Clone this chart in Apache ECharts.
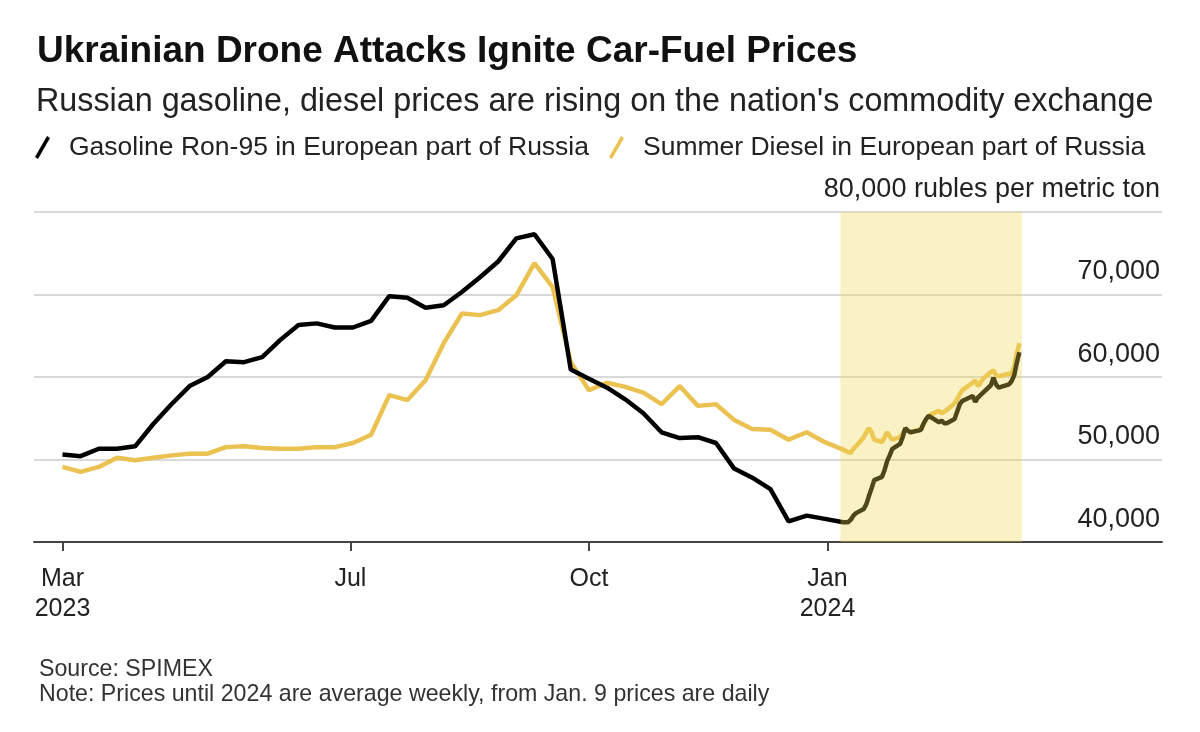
<!DOCTYPE html>
<html>
<head>
<meta charset="utf-8">
<script src="https://cdn.jsdelivr.net/npm/echarts@6/dist/echarts.min.js"></script>
<style>
html,body{margin:0;padding:0;background:#fff;}
#chart{width:1200px;height:732px;}
</style>
</head>
<body>
<div id="chart"></div>
<script>
// Weekly averages (until early Jan 2024)
const weeklyDates = [
  '2023-03-12','2023-03-19','2023-03-26','2023-04-02','2023-04-09','2023-04-16','2023-04-23','2023-04-30',
  '2023-05-07','2023-05-14','2023-05-21','2023-05-28','2023-06-04','2023-06-11','2023-06-18','2023-06-25',
  '2023-07-02','2023-07-09','2023-07-16','2023-07-23','2023-07-30','2023-08-06','2023-08-13','2023-08-20',
  '2023-08-27','2023-09-03','2023-09-10','2023-09-17','2023-09-24','2023-10-01','2023-10-08','2023-10-15',
  '2023-10-22','2023-10-29','2023-11-05','2023-11-12','2023-11-19','2023-11-26','2023-12-03','2023-12-10',
  '2023-12-17','2023-12-24','2023-12-31','2024-01-07'
];
const gasolineWeekly = [
  50600,50400,51300,51300,51600,54300,56700,58900,
  60000,61900,61800,62400,64500,66300,66500,66000,
  66000,66800,69800,69600,68400,68700,70300,72100,
  74000,76800,77300,74300,60900,59800,58700,57300,
  55600,53300,52600,52700,52000,48900,47800,46400,
  42500,43200,42800,42400
];
const dieselWeekly = [
  49100,48500,49100,50200,49900,50200,50500,50700,
  50700,51500,51600,51400,51300,51300,51500,51500,
  52000,53000,57800,57200,59600,64100,67700,67500,
  68100,69900,73800,70900,61800,58400,59300,58800,
  58100,56700,58900,56500,56700,54800,53700,53600,
  52400,53300,52100,51200
];
// Daily prices (from Jan. 9, 2024)
const dailyDates = [
  '2024-01-09','2024-01-10','2024-01-11','2024-01-12','2024-01-15','2024-01-16','2024-01-17','2024-01-18','2024-01-19',
  '2024-01-22','2024-01-23','2024-01-24','2024-01-25','2024-01-26','2024-01-29','2024-01-30','2024-01-31','2024-02-01','2024-02-02',
  '2024-02-05','2024-02-06','2024-02-07','2024-02-08','2024-02-09','2024-02-12','2024-02-13','2024-02-14','2024-02-15','2024-02-16',
  '2024-02-19','2024-02-20','2024-02-21','2024-02-22','2024-02-26','2024-02-27','2024-02-28','2024-02-29','2024-03-01',
  '2024-03-04','2024-03-05','2024-03-06','2024-03-07','2024-03-11','2024-03-12','2024-03-13','2024-03-14','2024-03-15'
];
const gasolineDaily = [
  42400,42700,43200,43500,44000,44600,45600,46500,47500,
  47900,48700,49800,50500,51300,51900,52700,53800,53500,53300,
  53500,53600,54300,54900,55300,54700,54500,54700,54400,54400,
  54900,55800,56700,57100,57700,57000,57500,57800,58100,
  59000,59900,59100,58700,59100,59500,60200,61700,63000
];
const dieselDaily = [
  50900,50800,51300,51600,52700,53300,53800,53300,52400,
  52100,52700,53300,52800,52400,52700,53200,53600,53500,53300,
  53600,53700,54300,54800,55300,55800,55900,55600,55800,56000,
  56800,57300,57900,58400,59300,59600,58900,59300,59800,
  60600,60800,60200,60100,60400,60400,61300,62800,64100
];
const seriesNames = ['Gasoline Ron-95 in European part of Russia', 'Summer Diesel in European part of Russia'];
const xRange = ['2023-03-01', '2024-05-09'];
const xTickDates = ['2023-03-12','2023-07-01','2023-10-01','2024-01-01'];
const xTickLabels = ['Mar\n2023','Jul','Oct','Jan\n2024'];
const yTicks = [40000, 50000, 60000, 70000, 80000];
const yTopLabel = '80,000 rubles per metric ton';
const highlightRange = ['2024-01-06', '2024-03-16'];

function ts(s){ const p = s.split('-').map(Number); return Date.UTC(p[0], p[1]-1, p[2]); }
const tickTs = xTickDates.map(ts);
const gasData = weeklyDates.map((d,i)=>[ts(d), gasolineWeekly[i]]).concat(dailyDates.map((d,i)=>[ts(d), gasolineDaily[i]]));
const dslData = weeklyDates.map((d,i)=>[ts(d), dieselWeekly[i]]).concat(dailyDates.map((d,i)=>[ts(d), dieselDaily[i]]));

const FONT = '"Liberation Sans", Arial, Helvetica, sans-serif';
const chart = echarts.init(document.getElementById('chart'), null, {renderer:'canvas'});
chart.setOption({
  backgroundColor: '#ffffff',
  animation: false,
  textStyle: {fontFamily: FONT},
  title: [
    {text: 'Ukrainian Drone Attacks Ignite Car-Fuel Prices', left: 32, top: 28,
     textStyle: {fontFamily: FONT, fontWeight: 'bold', fontSize: 37, color: '#111'}},
    {text: "Russian gasoline, diesel prices are rising on the nation's commodity exchange", left: 31, top: 81,
     textStyle: {fontFamily: FONT, fontWeight: 'normal', fontSize: 32.3, color: '#222'}},
    {text: 'Source: SPIMEX', left: 34, top: 653,
     textStyle: {fontFamily: FONT, fontWeight: 'normal', fontSize: 23.2, color: '#333'}},
    {text: 'Note: Prices until 2024 are average weekly, from Jan. 9 prices are daily', left: 34, top: 678,
     textStyle: {fontFamily: FONT, fontWeight: 'normal', fontSize: 23.2, color: '#333'}}
  ],
  legend: {
    data: seriesNames,
    left: 30, top: 129,
    itemWidth: 15, itemHeight: 24, itemGap: 20,
    icon: 'path://M0,21 L12,0 L15,2 L3,23 Z',
    textStyle: {fontFamily: FONT, fontSize: 26.5, color: '#222', padding: [0,0,0,14]}
  },
  grid: {left: 34, right: 38, top: 212, bottom: 190, containLabel: false},
  xAxis: {
    type: 'value',
    min: ts(xRange[0]), max: ts(xRange[1]),
    axisLine: {show: true, onZero: false, lineStyle: {color: '#444', width: 2}},
    axisTick: {show: true, customValues: tickTs, length: 9, lineStyle: {color: '#444', width: 2}},
    axisLabel: {
      customValues: tickTs, margin: 22, color: '#222', fontSize: 25, lineHeight: 30, fontFamily: FONT,
      formatter: function(v){
        for (let i=0;i<tickTs.length;i++){ if (Math.abs(tickTs[i]-v) < 43200000) return xTickLabels[i]; }
        return '';
      }
    },
    splitLine: {show: false}
  },
  yAxis: {
    type: 'value', position: 'right',
    min: 40000, max: 80000, interval: 10000,
    axisLine: {show: false}, axisTick: {show: false},
    splitLine: {show: true, lineStyle: {color: '#d9d9d9', width: 2}},
    axisLabel: {
      inside: true, margin: 2, verticalAlign: 'bottom', align: 'right',
      padding: [0,0,9,0], color: '#222', fontSize: 27, fontFamily: FONT,
      formatter: function(v){
        if (v === yTicks[yTicks.length-1]) return yTopLabel;
        return v.toLocaleString('en-US');
      }
    }
  },
  series: [
    {name: seriesNames[1], type: 'line', data: dslData, showSymbol: false, symbol: 'none', z: 2,
     color: '#EBC252', lineStyle: {color: '#EBC252', width: 4.5}},
    {name: seriesNames[0], type: 'line', data: gasData, showSymbol: false, symbol: 'none', z: 3,
     color: '#000000', lineStyle: {color: '#000000', width: 4.5}},
    {name: 'highlight', type: 'line', data: [], z: 10, silent: true,
     markArea: {silent: true, z: 10, itemStyle: {color: 'rgba(240,214,80,0.33)'},
       data: [[{xAxis: ts(highlightRange[0])}, {xAxis: ts(highlightRange[1])}]]}}
  ]
});
</script>
</body>
</html>
